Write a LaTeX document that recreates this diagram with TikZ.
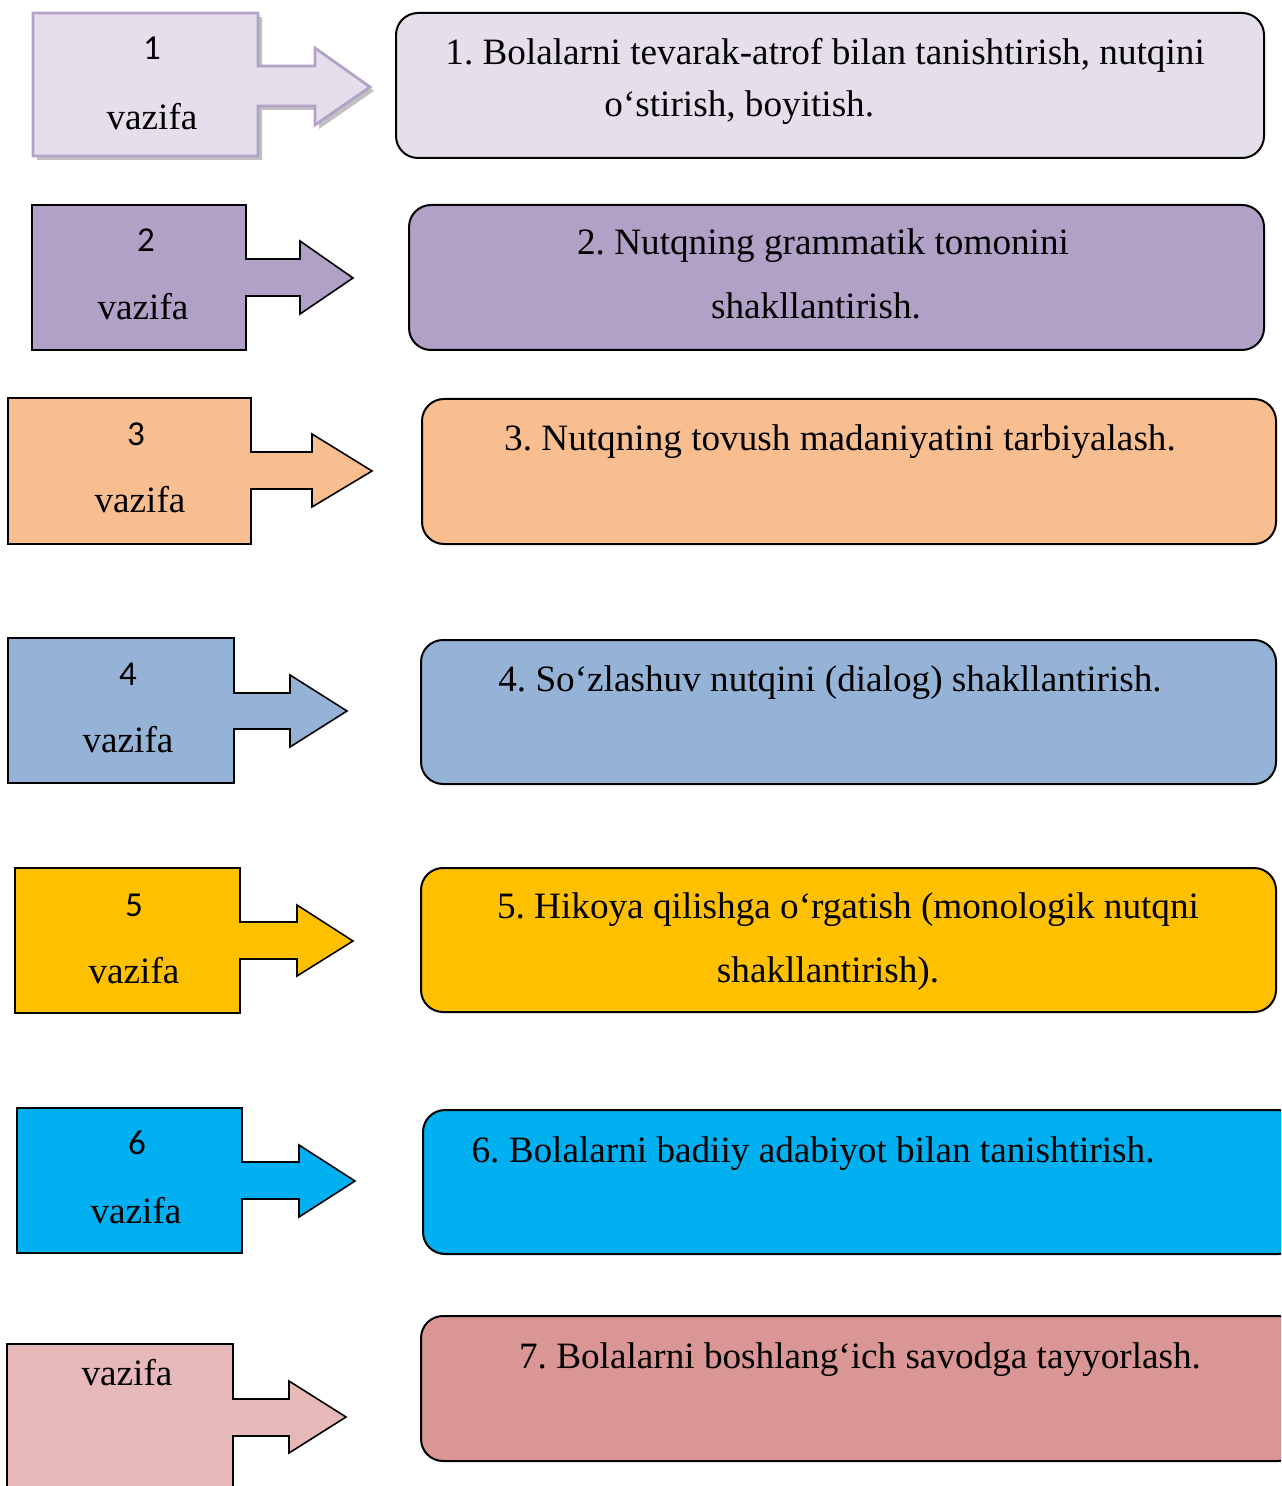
\documentclass[tikz,border=0pt]{standalone}
\usepackage{fontspec}
\setmainfont{Liberation Serif}
\newfontfamily\numfont{Carlito}
\usepackage{tikz}
\usetikzlibrary{calc}
\frenchspacing
\definecolor{lilac}{HTML}{E5DFEC}
\definecolor{lilacedge}{HTML}{B3A2C7}
\definecolor{violet}{HTML}{B2A1C7}
\definecolor{peach}{HTML}{F8BE90}
\definecolor{steel}{HTML}{95B3D7}
\definecolor{gold}{HTML}{FFC000}
\definecolor{sky}{HTML}{00B0F0}
\definecolor{rose}{HTML}{E6B9B8}
\definecolor{rosedark}{HTML}{D99694}
\tikzstyle{task} = [draw=black, line width=0.8pt, line join=miter]
\tikzstyle{aim}  = [draw=black, line width=1pt, rounded corners=11pt]

\begin{document}
\begin{tikzpicture}[
    x=0.5pt, y=-0.5pt,
    num/.style={font=\numfont\fontsize{17.5}{20}\selectfont, anchor=base, inner sep=0pt, yshift=-1pt},
    word/.style={font=\fontsize{18.6}{22}\selectfont, anchor=base, inner sep=0pt, yshift=-1pt},
  ]
  \useasboundingbox (0,0) rectangle (1281,1486);
  \clip (0,0) rectangle (1281,1486);

  % 1 vazifa
  \fill[gray!70, opacity=0.7, shift={(4,4)}]
    (33,13) -- (258,13) -- (258,66) -- (315,66) -- (315,48) -- (370,87)
    -- (315,125) -- (315,106) -- (258,106) -- (258,156) -- (33,156) -- cycle;
  \draw[fill=lilac, draw=lilacedge, line width=1.4pt]
    (33,13) -- (258,13) -- (258,66) -- (315,66) -- (315,48) -- (370,87)
    -- (315,125) -- (315,106) -- (258,106) -- (258,156) -- (33,156) -- cycle;
  \node[num] (n1) at (152,58) {1};
  \node[word] (v1) at (152,128) {vazifa};
  \draw[aim, fill=lilac] (396,13) rectangle (1264,158);
  \node[word, anchor=base west] (t1a) at (445,63) {1. Bolalarni tevarak-atrof bilan tanishtirish, nutqini};
  \node[word, anchor=base west] (t1b) at (604,115) {o‘stirish, boyitish.};

  % 2 vazifa
  \draw[task, fill=violet]
    (32,205) -- (246,205) -- (246,259) -- (300,259) -- (300,241) -- (353,278)
    -- (300,314) -- (300,296) -- (246,296) -- (246,350) -- (32,350) -- cycle;
  \node[num] (n2) at (146,250) {2};
  \node[word] (v2) at (143,318) {vazifa};
  \draw[aim, fill=violet] (409,205) rectangle (1264,350);
  \node[word] (t2a) at (823,253) {2. Nutqning grammatik tomonini};
  \node[word] (t2b) at (816,317) {shakllantirish.};

  % 3 vazifa
  \draw[task, fill=peach]
    (8,398) -- (251,398) -- (251,452) -- (312,452) -- (312,434) -- (372,471)
    -- (312,507) -- (312,489) -- (251,489) -- (251,544) -- (8,544) -- cycle;
  \node[num] (n3) at (136,443) {3};
  \node[word] (v3) at (140,510) {vazifa};
  \draw[aim, fill=peach] (422,399) rectangle (1276,544);
  \node[word] (t3a) at (840,449) {3. Nutqning tovush madaniyatini tarbiyalash.};

  % 4 vazifa
  \draw[task, fill=steel]
    (8,638) -- (234,638) -- (234,693) -- (290,693) -- (290,675) -- (347,711)
    -- (290,747) -- (290,729) -- (234,729) -- (234,783) -- (8,783) -- cycle;
  \node[num] (n4) at (128,683) {4};
  \node[word] (v4) at (128,750) {vazifa};
  \draw[aim, fill=steel] (421,640) rectangle (1276,784);
  \node[word] (t4a) at (830,689) {4. So‘zlashuv nutqini (dialog) shakllantirish.};

  % 5 vazifa
  \draw[task, fill=gold]
    (15,868) -- (240,868) -- (240,922) -- (297,922) -- (297,905) -- (353,941)
    -- (297,976) -- (297,959) -- (240,959) -- (240,1013) -- (15,1013) -- cycle;
  \node[num] (n5) at (134,914) {5};
  \node[word] (v5) at (134,981) {vazifa};
  \draw[aim, fill=gold] (421,868) rectangle (1276,1012);
  \node[word] (t5a) at (848,916) {5. Hikoya qilishga o‘rgatish (monologik nutqni};
  \node[word] (t5b) at (828,980) {shakllantirish).};

  % 6 vazifa
  \draw[task, fill=sky]
    (17,1108) -- (242,1108) -- (242,1162) -- (299,1162) -- (299,1145) -- (355,1181)
    -- (299,1217) -- (299,1199) -- (242,1199) -- (242,1253) -- (17,1253) -- cycle;
  \node[num] (n6) at (137,1152) {6};
  \node[word] (v6) at (136,1221) {vazifa};
  \draw[aim, fill=sky] (423,1110) rectangle (1300,1254);
  \node[word] (t6a) at (813,1160) {6. Bolalarni badiiy adabiyot bilan tanishtirish.};

  % 7 vazifa
  \draw[task, fill=rose]
    (7,1344) -- (233,1344) -- (233,1399) -- (289,1399) -- (289,1381) -- (346,1417)
    -- (289,1453) -- (289,1436) -- (233,1436) -- (233,1500) -- (7,1500) -- cycle;
  \node[word] (v7) at (127,1383) {vazifa};
  \draw[aim, fill=rosedark] (421,1316) rectangle (1300,1461);
  \node[word] (t7a) at (860,1366) {7. Bolalarni boshlang‘ich savodga tayyorlash.};
\end{tikzpicture}
\end{document}
